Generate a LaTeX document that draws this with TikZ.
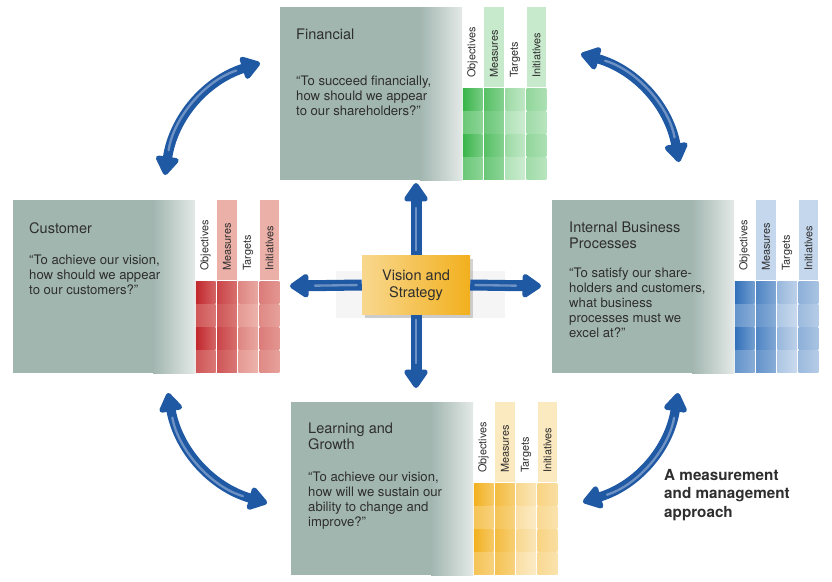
\documentclass[tikz,border=0pt]{standalone}
\usepackage{fontspec}
\setmainfont{TeX Gyre Heros}
\usetikzlibrary{arrows.meta,shadows,positioning}
\definecolor{panelgrey}{HTML}{A2B6B0}
\definecolor{textgrey}{HTML}{2E2E2E}
\definecolor{arrowblue}{HTML}{1F58A3}
\definecolor{finGreen}{HTML}{39B54A}
\definecolor{cusRed}{HTML}{C1272D}
\definecolor{cusPeach}{HTML}{FCE5D8}
\definecolor{intBlue}{HTML}{3170BA}
\definecolor{lrnGold}{HTML}{F2B01E}
\tikzset{
  paneltitle/.style={anchor=base west, inner sep=0, align=left, text=textgrey,
    font=\fontsize{12.4}{13}\selectfont},
  panelquote/.style={anchor=base west, inner sep=0, align=left, text=textgrey,
    font=\fontsize{11.2}{12.8}\selectfont},
  colhead/.style={rotate=90, anchor=west, inner sep=0, text=textgrey,
    font=\fontsize{9.3}{10}\selectfont},
  bigarrow/.style={line width=0.33cm, arrowblue, -{Triangle[width=0.8cm,length=0.62cm,round]}},
  curvearrow/.style={line width=0.28cm, arrowblue,
    {Triangle[width=0.78cm,length=0.62cm,round]}-{Triangle[width=0.78cm,length=0.62cm,round]}},
  glow/.style={line width=0.07cm, arrowblue!65!white, line cap=round},
  vision/.style={minimum width=3.24cm, minimum height=1.77cm, align=center, text=textgrey,
    left color=lrnGold!50!white, right color=lrnGold, drop shadow={opacity=0.35},
    font=\fontsize{12.4}{14.5}\selectfont},
  approach/.style={anchor=base west, inner sep=0, align=left, text=textgrey,
    font=\bfseries\fontsize{13}{15.7}\selectfont},
}
% one perspective: grey card, header tints, 4x4 grid and column heads
% (multi-line nodes below are placed by the baseline of their last line)
\def\drawPanel{
\fill[panelgrey] (0,0) rectangle (140,173);
\shade[left color=panelgrey, right color=panelgrey!30] (140,0) rectangle (182,173);
\fill[panelcol!28!paneltint] (204,0) rectangle (223.75,80.25);
\fill[panelcol!28!paneltint] (246.5,0) rectangle (266.25,80.25);
\foreach \col/\la/\ra/\lb/\rb in {0/100/68/75/58, 1/85/62/75/58, 2/50/32/40/26, 3/55/42/48/36}{
  \foreach \row in {0,2}
    \shade[left color=panelcol!\la!paneltint, right color=panelcol!\ra!paneltint]
      ({182+21.25*\col+0.75},{81+23*\row+0.75}) rectangle ({182+21.25*(\col+1)-0.75},{81+23*(\row+1)-0.75});
  \foreach \row in {1,3}
    \shade[left color=panelcol!\lb!paneltint, right color=panelcol!\rb!paneltint]
      ({182+21.25*\col+0.75},{81+23*\row+0.75}) rectangle ({182+21.25*(\col+1)-0.75},{81+23*(\row+1)-0.75});
}
\node[colhead] (\pname-obj) at (192.6,71) {Objectives};
\node[colhead] (\pname-mea) at (213.9,71) {Measures};
\node[colhead] (\pname-tar) at (235.1,71) {Targets};
\node[colhead] (\pname-ini) at (256.4,71) {Initiatives};
}
\begin{document}
\begin{tikzpicture}[x=0.03cm, y=-0.03cm]
	\useasboundingbox (0,0) rectangle (832,581);
	% faint band behind the centre
	\fill[black!4] (336,271) rectangle (505,318);
	% the four perspectives
	\begin{scope}[shift={(280,7)}]
	\colorlet{panelcol}{finGreen}\colorlet{paneltint}{white}\def\pname{fin}
	\drawPanel
	\node[paneltitle] (fin-title) at (16,32) {Financial};
	\node[panelquote] (fin-quote) at (16,108) {“To succeed financially,\\how should we appear\\to our shareholders?”};
	\end{scope}
	\begin{scope}[shift={(13,200)}]
	\colorlet{panelcol}{cusRed}\colorlet{paneltint}{cusPeach}\def\pname{cus}
	\drawPanel
	\node[paneltitle] (cus-title) at (16,33) {Customer};
	\node[panelquote] (cus-quote) at (16,94) {“To achieve our vision,\\how should we appear\\to our customers?”};
	\end{scope}
	\begin{scope}[shift={(552,200)}]
	\colorlet{panelcol}{intBlue}\colorlet{paneltint}{white}\def\pname{int}
	\drawPanel
	\node[paneltitle] (int-title) at (17,48) {Internal Business\\Processes};
	\node[panelquote] (int-quote) at (17,137) {“To satisfy our share-\\holders and customers,\\what business\\processes must we\\excel at?”};
	\end{scope}
	\begin{scope}[shift={(291,402)}]
	\colorlet{panelcol}{lrnGold}\colorlet{paneltint}{white}\def\pname{lrn}
	\drawPanel
	\node[paneltitle] (lrn-title) at (17,47) {Learning and\\Growth};
	\node[panelquote] (lrn-quote) at (17,124) {“To achieve our vision,\\how will we sustain our\\ability to change and\\improve?”};
	\end{scope}
	% centre and straight arrows
	\node[vision] (vision) at (416,285) {Vision and\\Strategy};
	\coordinate (fin-tip) at (416,183);
	\coordinate (lrn-tip) at (416,388);
	\coordinate (cus-tip) at (290,286);
	\coordinate (int-tip) at (541,286);
	\foreach \tip/\side in {fin/north, lrn/south, cus/west, int/east}{
	  \draw[bigarrow] (vision.\side) -- (\tip-tip);
	  \draw[glow, shorten >=0.75cm, shorten <=0.15cm] (vision.\side) -- (\tip-tip);
	}
	% curved arrows between the perspectives
	\coordinate (tl-a) at (165,175);
	\coordinate (tl-b) at (260,63);
	\coordinate (tr-a) at (581,54);
	\coordinate (tr-b) at (679,162);
	\coordinate (br-a) at (678,393);
	\coordinate (br-b) at (583,502);
	\coordinate (bl-a) at (267,503);
	\coordinate (bl-b) at (168,393);
	\foreach \arc in {tl, tr, br, bl}{
	  \draw[curvearrow] (\arc-a) to[bend left=32] (\arc-b);
	  \draw[glow, shorten >=0.75cm, shorten <=0.75cm] (\arc-a) to[bend left=32] (\arc-b);
	}
	\node[approach] (approach) at (664,517) {A measurement\\and management\\approach};
\end{tikzpicture}
\end{document}
